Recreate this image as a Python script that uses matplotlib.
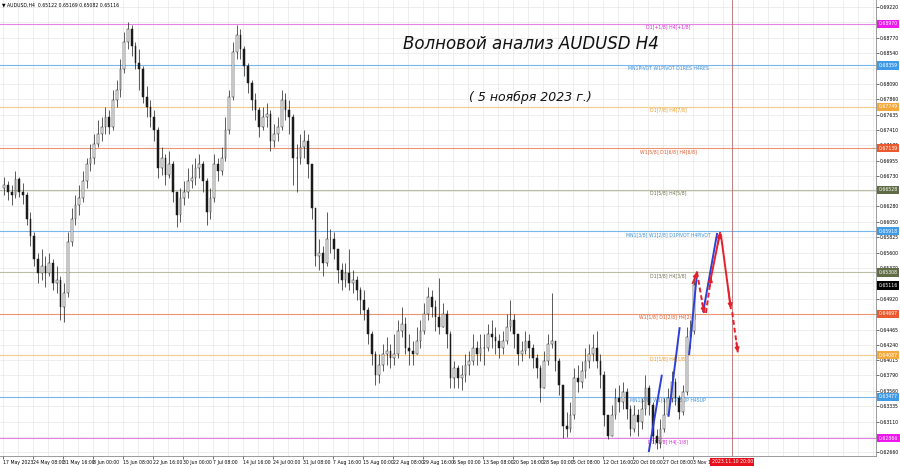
import numpy as np
import matplotlib
matplotlib.use("Agg")
import matplotlib.pyplot as plt
from matplotlib.transforms import blended_transform_factory

# AUDUSD H4, 17 May - 3 Nov 2023 in blocks of 4 candles
first_open = 0.6655
close = [
    .6660, .6650, .6645, .6668, .6650, .6645, .6610, .6585, .6550, .6530,
    .6540, .6530, .6545, .6515, .6520, .6480, .6500, .6575, .6610, .6630,
    .6640, .6665, .6690, .6700, .6720, .6735, .6745, .6760, .6745, .6785,
    .6800, .6830, .6870, .6890, .6865, .6840, .6830, .6790, .6775, .6760,
    .6740, .6685, .6700, .6675, .6690, .6650, .6615, .6640, .6650, .6665,
    .6670, .6685, .6690, .6665, .6620, .6640, .6690, .6680, .6700, .6740,
    .6790, .6855, .6880, .6860, .6835, .6810, .6785, .6770, .6745, .6760,
    .6765, .6725, .6735, .6745, .6785, .6770, .6760, .6700, .6700, .6715,
    .6725, .6690, .6625, .6555, .6560, .6545, .6580, .6580, .6565, .6535,
    .6520, .6530, .6515, .6520, .6505, .6490, .6475, .6440, .6410, .6380,
    .6395, .6410, .6415, .6405, .6410, .6445, .6455, .6420, .6415, .6410,
    .6430, .6445, .6470, .6495, .6480, .6465, .6450, .6470, .6440, .6375,
    .6390, .6375, .6380, .6395, .6400, .6420, .6410, .6420, .6420, .6440,
    .6435, .6430, .6420, .6430, .6450, .6460, .6440, .6410, .6415, .6430,
    .6420, .6405, .6390, .6360, .6400, .6425, .6430, .6400, .6365, .6305,
    .6300, .6320, .6375, .6370, .6385, .6400, .6410, .6420, .6400, .6380,
    .6320, .6290, .6320, .6345, .6340, .6355, .6330, .6300, .6320, .6310,
    .6330, .6360, .6335, .6290, .6280, .6300, .6320, .6345, .6370, .6345,
    .6325, .6355, .6435, .6445, .6512,
]
high = [
    .6672, .6665, .6660, .6680, .6672, .6662, .6650, .6620, .6590, .6560,
    .6565, .6555, .6560, .6550, .6540, .6525, .6515, .6590, .6625, .6645,
    .6660, .6680, .6700, .6720, .6735, .6755, .6760, .6775, .6770, .6800,
    .6815, .6845, .6885, .6900, .6895, .6870, .6860, .6835, .6805, .6785,
    .6770, .6745, .6715, .6705, .6710, .6695, .6650, .6655, .6665, .6685,
    .6690, .6700, .6705, .6695, .6670, .6655, .6705, .6700, .6715, .6760,
    .6800, .6870, .6895, .6890, .6865, .6840, .6815, .6795, .6775, .6775,
    .6780, .6770, .6750, .6760, .6800, .6795, .6785, .6765, .6720, .6735,
    .6740, .6735, .6690, .6625, .6580, .6570, .6620, .6595, .6590, .6565,
    .6545, .6545, .6565, .6535, .6525, .6510, .6505, .6480, .6445, .6415,
    .6410, .6425, .6435, .6425, .6440, .6460, .6480, .6465, .6440, .6430,
    .6450, .6460, .6485, .6510, .6505, .6490, .6522, .6485, .6475, .6445,
    .6400, .6395, .6395, .6410, .6415, .6440, .6430, .6440, .6440, .6455,
    .6460, .6450, .6440, .6445, .6470, .6490, .6470, .6440, .6430, .6445,
    .6440, .6425, .6410, .6395, .6415, .6440, .6500, .6430, .6405, .6365,
    .6325, .6340, .6390, .6395, .6400, .6420, .6425, .6440, .6445, .6410,
    .6385, .6320, .6335, .6360, .6365, .6370, .6360, .6335, .6335, .6330,
    .6345, .6380, .6365, .6340, .6300, .6315, .6345, .6360, .6385, .6375,
    .6350, .6365, .6450, .6460, .6522,
]
low = [
    .6645, .6638, .6630, .6640, .6642, .6632, .6600, .6570, .6540, .6515,
    .6520, .6510, .6525, .6505, .6500, .6460, .6458, .6495, .6570, .6600,
    .6615, .6635, .6655, .6680, .6690, .6715, .6725, .6735, .6735, .6740,
    .6775, .6790, .6825, .6860, .6850, .6830, .6800, .6780, .6760, .6745,
    .6725, .6670, .6675, .6660, .6670, .6635, .6598, .6605, .6630, .6640,
    .6655, .6660, .6670, .6650, .6600, .6610, .6635, .6665, .6675, .6695,
    .6735, .6785, .6845, .6845, .6820, .6795, .6770, .6755, .6730, .6740,
    .6745, .6710, .6715, .6725, .6740, .6755, .6735, .6660, .6650, .6690,
    .6700, .6670, .6610, .6540, .6535, .6525, .6540, .6560, .6550, .6515,
    .6505, .6510, .6505, .6500, .6490, .6470, .6460, .6425, .6395, .6365,
    .6368, .6385, .6395, .6390, .6395, .6405, .6435, .6410, .6395, .6395,
    .6410, .6420, .6440, .6460, .6465, .6445, .6440, .6450, .6420, .6360,
    .6360, .6360, .6358, .6370, .6380, .6395, .6395, .6400, .6395, .6415,
    .6420, .6410, .6405, .6410, .6425, .6445, .6420, .6395, .6400, .6410,
    .6405, .6390, .6375, .6340, .6360, .6395, .6420, .6385, .6350, .6286,
    .6288, .6295, .6315, .6355, .6360, .6375, .6390, .6400, .6390, .6360,
    .6305, .6285, .6290, .6315, .6325, .6330, .6315, .6290, .6295, .6290,
    .6300, .6320, .6320, .6280, .6270, .6272, .6295, .6320, .6340, .6335,
    .6315, .6320, .6350, .6420, .6440,
]
bars_per_block = 4

date_labels = ["17 May 2023", "24 May 08:00", "31 May 16:00", "8 Jun 00:00",
               "15 Jun 08:00", "22 Jun 16:00", "30 Jun 00:00", "7 Jul 08:00",
               "14 Jul 16:00", "24 Jul 00:00", "31 Jul 08:00", "7 Aug 16:00",
               "15 Aug 00:00", "22 Aug 08:00", "29 Aug 16:00", "6 Sep 00:00",
               "13 Sep 08:00", "20 Sep 16:00", "28 Sep 00:00", "5 Oct 08:00",
               "12 Oct 16:00", "20 Oct 00:00", "27 Oct 08:00", "3 Nov 16:00"]
price_ticks = [0.69220, 0.68995, 0.68770, 0.68540, 0.68315, 0.68090, 0.67860,
               0.67635, 0.67410, 0.67185, 0.66955, 0.66730, 0.66505, 0.66280,
               0.66050, 0.65825, 0.65600, 0.65370, 0.65145, 0.64920, 0.64695,
               0.64465, 0.64240, 0.64015, 0.63790, 0.63560, 0.63335, 0.63110,
               0.62885, 0.62660]
# tick labels that the level boxes cover in the screenshot
hidden_ticks = [0.68315, 0.66505, 0.65145, 0.64695]

# Murrey / pivot levels
level_price = [0.68970, 0.68359, 0.67749, 0.67139, 0.66528, 0.65918,
               0.65308, 0.64697, 0.64087, 0.63477, 0.62866]
level_text = ["D1[+1/8] H4[+1/8]", "MN1PIVOT W1PIVOT D1RES H4RES",
              "D1[7/8] H4[7/8]", "W1[5/8] D1[6/8] H4[6/8]", "D1[5/8] H4[5/8]",
              "MN1[3/8] W1[2/8] D1PIVOT H4PIVOT", "D1[3/8] H4[3/8]",
              "W1[1/8] D1[2/8] H4[2/8]", "D1[1/8] H4[1/8]",
              "MN1[2/8] W1[0/8] D1SUP H4SUP", "D1[-1/8] H4[-1/8]"]
level_kind = ["mag", "blue", "orange", "red", "olive", "blue", "olive",
              "red", "orange", "blue", "mag"]
last_price = 0.65116
header = "AUDUSD,H4  0.65122 0.65169 0.65082 0.65116"

# wave count drawn on the chart (bar index, price)
blue_x = [[689, 703], [710, 722], [732, 740.5], [747, 762]]
blue_p = [[0.6266, 0.6380], [0.6318, 0.6450], [0.6409, 0.6530], [0.6472, 0.6589]]
red_x = [[736, 740.5], [740.5, 748], [750, 755.5], [755.5, 765], [766, 776.5], [778, 784]]
red_p = [[0.6515, 0.6531], [0.6531, 0.6471], [0.6471, 0.6524],
         [0.6524, 0.6589], [0.6586, 0.6478], [0.6472, 0.6413]]
red_dash = [False, True, True, False, False, True]
vline_bar = 778
vline_text = "2023.11.10 20:00"

LINE = {"mag": "#e780e7", "blue": "#78b6ee", "orange": "#f4cb8e",
        "red": "#ef9470", "olive": "#bdbca6"}
TXT = {"mag": "#d02ad0", "blue": "#3b8fdc", "orange": "#e99a25",
       "red": "#e0592b", "olive": "#6f6f50"}
BOX = {"mag": "#ee18ee", "blue": "#3f9ae8", "orange": "#f4a93c",
       "red": "#ea5a2e", "olive": "#5f6c45"}
FS = 3.3

fig = plt.figure(figsize=(9, 4.68), dpi=100, facecolor="white")
ax = fig.add_axes([0, 12 / 468, 876 / 900, 456 / 468])
ax.set_facecolor("white")
ax.set_xlim(-3, 876 / 0.9375 - 3)
ax.set_ylim(0.62602, 0.69323)

# grid
ax.set_yticks(price_ticks)
ax.set_yticklabels(["" if p in hidden_ticks else f"{p:.5f}" for p in price_ticks],
                   fontsize=FS)
ax.yaxis.tick_right()
ax.set_xticks(np.arange(len(date_labels)) * 32)
ax.set_xticklabels(date_labels, fontsize=FS, ha="left")
ax.set_xticks(np.arange(0, 940, 16), minor=True)
ax.tick_params(axis="both", which="major", length=2, width=0.4, pad=1,
               colors="black")
ax.tick_params(axis="x", which="minor", length=0)
ax.grid(which="both", color="#e8e8e8", lw=0.5, zorder=0)
ax.set_axisbelow(True)
for s in ("left", "top"):
    ax.spines[s].set_visible(False)
for s in ("right", "bottom"):
    ax.spines[s].set_color("#8a8a8a")
    ax.spines[s].set_linewidth(0.6)

# levels
ty = blended_transform_factory(ax.transAxes, ax.transData)
for p, t, k in zip(level_price, level_text, level_kind):
    ax.axhline(p, color=LINE[k], lw=0.8, zorder=1)
    ax.text(709.5, p - 0.00012, t, color=TXT[k], fontsize=FS, ha="center",
            va="top", zorder=1.5)
    ax.text(1.003, p, f"{p:.5f}", transform=ty, color="white", fontsize=FS,
            ha="left", va="center", clip_on=False, zorder=5,
            bbox=dict(boxstyle="square,pad=0.35", fc=BOX[k], ec="none"))
ax.text(1.003, last_price, f"{last_price:.5f}", transform=ty, color="white",
        fontsize=FS, ha="left", va="center", clip_on=False, zorder=5,
        bbox=dict(boxstyle="square,pad=0.35", fc="black", ec="none"))

# candles (one per block of 4 H4 bars)
c = np.array(close)
o = np.r_[first_open, c[:-1]]
x = np.arange(len(c)) * bars_per_block + 1.5
ax.vlines(x, low, high, color="#1a1a1a", lw=0.5, zorder=3)
up = c >= o
ax.bar(x[up], (c - o)[up], bottom=o[up], width=2.0, color="white",
       edgecolor="#1a1a1a", lw=0.35, zorder=4)
ax.bar(x[~up], (o - c)[~up], bottom=c[~up], width=2.0, color="#1a1a1a",
       edgecolor="#1a1a1a", lw=0.35, zorder=4)

# vertical time marker
ax.axvline(vline_bar, color="#b86a6a", lw=0.6, zorder=2)
tx = blended_transform_factory(ax.transData, ax.transAxes)
ax.text(vline_bar, -0.013, vline_text, transform=tx, color="white",
        fontsize=FS, ha="center", va="center", clip_on=False, zorder=6,
        bbox=dict(boxstyle="square,pad=0.3", fc="#e8101a", ec="none"))

# wave lines
for bx, bp in zip(blue_x, blue_p):
    ax.plot(bx, bp, color="#2e3fd6", lw=1.4, zorder=6, solid_capstyle="butt")
for rx, rp, d in zip(red_x, red_p, red_dash):
    ax.plot(rx, rp, color="#e6202a", lw=1.4, ls=(0, (2.5, 1.5)) if d else "-",
            zorder=7)
    ax.annotate("", xy=(rx[1], rp[1]),
                xytext=(rx[1] - (rx[1] - rx[0]) * 0.25,
                        rp[1] - (rp[1] - rp[0]) * 0.25),
                arrowprops=dict(arrowstyle="-|>", color="#e6202a", lw=1.2,
                                mutation_scale=6, shrinkA=0, shrinkB=0),
                zorder=7)

# texts
fig.text(2 / 900, 1 - 5 / 468, "\u25bc " + header, fontsize=FS, va="center",
         ha="left")
fig.text(531 / 900, 1 - 44 / 468, "Волновой анализ AUDUSD H4", fontsize=12,
         style="italic", ha="center", va="center", color="#111111")
fig.text(530 / 900, 1 - 97 / 468, "( 5 ноября 2023 г.)", fontsize=9,
         style="italic", ha="center", va="center", color="#111111")

fig.savefig("out.png", dpi=100, facecolor="white")
